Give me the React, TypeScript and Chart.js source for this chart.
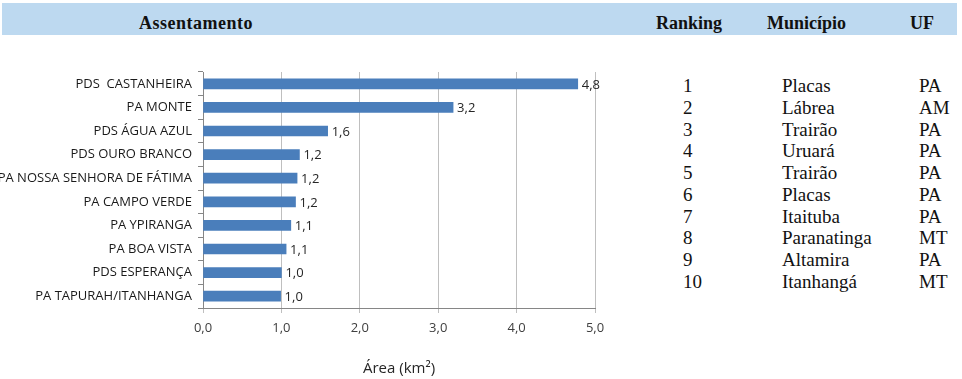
import React, { useEffect, useRef } from 'react';
import { Chart, registerables } from 'chart.js';

Chart.register(...registerables);

const settlements = [
  'PDS  CASTANHEIRA',
  'PA MONTE',
  'PDS ÁGUA AZUL',
  'PDS OURO BRANCO',
  'PA NOSSA SENHORA DE FÁTIMA',
  'PA CAMPO VERDE',
  'PA YPIRANGA',
  'PA BOA VISTA',
  'PDS ESPERANÇA',
  'PA TAPURAH/ITANHANGA',
];
const areas = [4.78, 3.19, 1.59, 1.23, 1.2, 1.18, 1.12, 1.06, 1.0, 0.99];
const xTicks = [0, 1, 2, 3, 4, 5];
const xTitle = 'Área (km²)';

const headerSettlement = 'Assentamento';
const headerRanking = 'Ranking';
const headerMunicipio = 'Município';
const headerUF = 'UF';

const rankings = ['1', '2', '3', '4', '5', '6', '7', '8', '9', '10'];
const municipios = ['Placas', 'Lábrea', 'Trairão', 'Uruará', 'Trairão', 'Placas', 'Itaituba', 'Paranatinga', 'Altamira', 'Itanhangá'];
const ufs = ['PA', 'AM', 'PA', 'PA', 'PA', 'PA', 'PA', 'MT', 'PA', 'MT'];

const fmt = (v: number) => v.toFixed(1).replace('.', ',');

const valueLabels = {
  id: 'valueLabels',
  afterDatasetsDraw(chart: any) {
    const ctx = chart.ctx;
    const meta = chart.getDatasetMeta(0);
    ctx.save();
    ctx.font = '13px "Open Sans"';
    ctx.fillStyle = '#262626';
    ctx.textAlign = 'left';
    ctx.textBaseline = 'middle';
    meta.data.forEach((bar: any, i: number) => {
      const v = chart.data.datasets[0].data[i] as number;
      ctx.fillText(fmt(v), bar.x + 4, bar.y + 1);
    });
    ctx.restore();
  },
};

function BarChart() {
  const ref = useRef<HTMLCanvasElement>(null);
  useEffect(() => {
    if (!ref.current) return;
    const chart = new Chart(ref.current, {
      type: 'bar',
      data: {
        labels: settlements,
        datasets: [
          {
            data: areas,
            backgroundColor: '#4A7EBB',
            borderWidth: 0,
            barThickness: 10,
          },
        ],
      },
      options: {
        indexAxis: 'y',
        responsive: false,
        animation: false,
        layout: { padding: { left: 0, right: 45, top: 32, bottom: 0 } },
        plugins: { legend: { display: false }, tooltip: { enabled: false } },
        scales: {
          x: {
            type: 'linear',
            min: 0,
            max: 5,
            afterBuildTicks: (scale: any) => {
              scale.ticks = xTicks.map((v) => ({ value: v }));
            },
            afterFit: (scale: any) => {
              scale.height = 71;
            },
            grid: { color: '#BFBFBF', tickLength: 5, drawTicks: true },
            border: { color: '#868686' },
            ticks: {
              padding: 7,
              color: '#404040',
              font: { family: 'Open Sans', size: 13 },
              callback: (v: any) => fmt(Number(v)),
              maxRotation: 0,
            },
            title: {
              display: true,
              text: xTitle,
              color: '#262626',
              font: { family: 'Open Sans', size: 15 },
              padding: { top: 0, bottom: 1 },
            },
          },
          y: {
            type: 'category',
            afterFit: (scale: any) => {
              scale.width = 203;
            },
            grid: { drawOnChartArea: false, drawTicks: true, tickLength: 5, color: '#868686', offset: true },
            border: { color: '#868686' },
            ticks: {
              padding: 6,
              color: '#1a1a1a',
              font: { family: 'Open Sans', size: 13 },
              autoSkip: false,
            },
          },
        },
      },
      plugins: [valueLabels],
    });
    return () => chart.destroy();
  }, []);
  return (
    <canvas
      ref={ref}
      width={640}
      height={339}
      style={{ position: 'absolute', left: 0, top: 40, width: 640, height: 339, display: 'block' }}
    />
  );
}

export default function App() {
  const hdr: React.CSSProperties = {
    position: 'absolute',
    top: 14,
    lineHeight: '18px',
    fontSize: 18,
    fontWeight: 'bold',
    color: '#111',
    whiteSpace: 'nowrap',
  };
  const cell: React.CSSProperties = {
    position: 'absolute',
    fontSize: 19,
    lineHeight: '22px',
    color: '#111',
    whiteSpace: 'nowrap',
  };
  return (
    <div
      style={{
        position: 'absolute',
        left: 0,
        top: 0,
        width: 962,
        height: 379,
        background: '#fff',
        overflow: 'hidden',
        fontFamily: '"Liberation Serif", "Times New Roman", serif',
      }}
    >
      <div style={{ position: 'absolute', left: 2, top: 3, width: 955, height: 32, background: '#BDD9F0' }} />
      <div style={{ ...hdr, left: 96, width: 200, textAlign: 'center', letterSpacing: 0.5 }}>{headerSettlement}</div>
      <div style={{ ...hdr, left: 656 }}>{headerRanking}</div>
      <div style={{ ...hdr, left: 767 }}>{headerMunicipio}</div>
      <div style={{ ...hdr, left: 910 }}>{headerUF}</div>
      <BarChart />
      {rankings.map((r, i) => (
        <React.Fragment key={i}>
          <div style={{ ...cell, left: 683, top: 75.3 + 21.73 * i }}>{r}</div>
          <div style={{ ...cell, left: 782, top: 75.3 + 21.73 * i }}>{municipios[i]}</div>
          <div style={{ ...cell, left: 919, top: 75.3 + 21.73 * i }}>{ufs[i]}</div>
        </React.Fragment>
      ))}
    </div>
  );
}
